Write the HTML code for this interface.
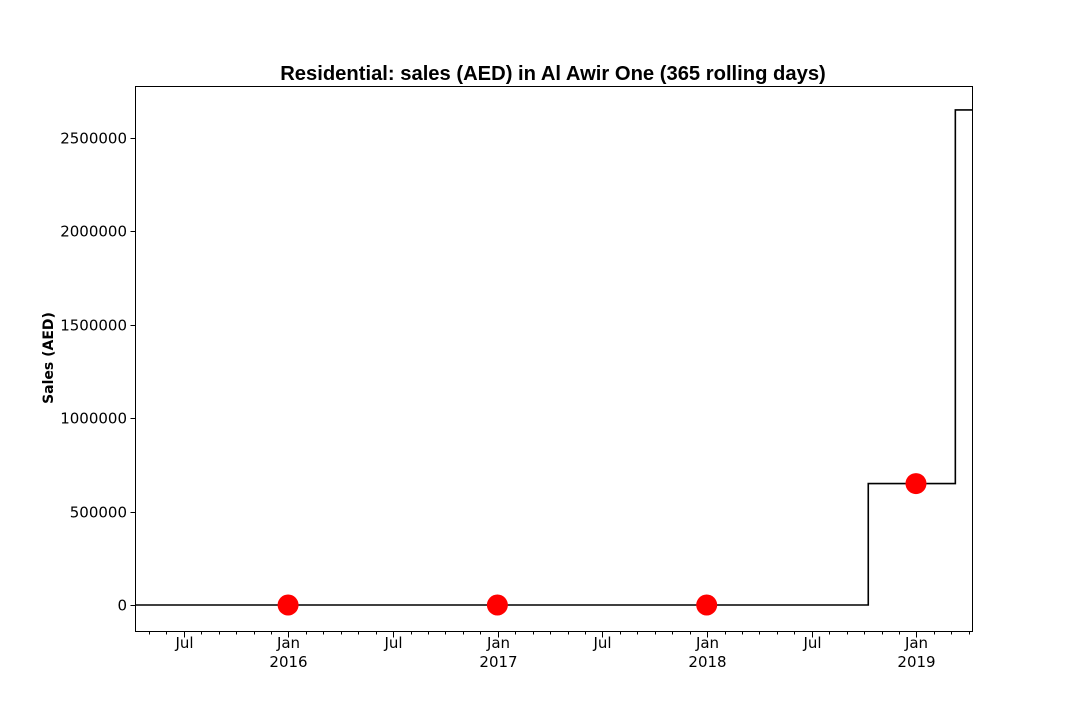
<!DOCTYPE html>
<html><head><meta charset="utf-8"><style>
body{margin:0;background:#fff}
svg{display:block}
.tk{font-family:"DejaVu Sans","Liberation Sans",sans-serif;font-size:15px;fill:#000}
</style></head><body>
<svg id="chart" width="1080" height="720" xmlns="http://www.w3.org/2000/svg">
<rect width="1080" height="720" fill="#fff"/>
<text x="553" y="80" text-anchor="middle" font-family="Liberation Sans, sans-serif" font-weight="bold" font-size="20.2">Residential: sales (AED) in Al Awir One (365 rolling days)</text>
<text transform="translate(53,358) rotate(-90)" text-anchor="middle" font-family="DejaVu Sans, sans-serif" font-weight="bold" font-size="14">Sales (AED)</text>
<g id="plot"></g>
<rect x="135.5" y="86.5" width="837" height="545" fill="none" stroke="#000" stroke-width="1"/>
</svg>
<script>
// step series: [decimal year, value]
const stepTimes = [2015.32, 2018.77, 2019.186, 2019.27];
const stepValues = [0, 650000, 2650000, 2650000];
const pointTimes = [2015.998, 2016.998, 2017.998, 2018.998];
const pointValues = [0, 0, 0, 650000];
const yTicks = [0, 500000, 1000000, 1500000, 2000000, 2500000];
const yearLabels = [2016, 2017, 2018, 2019];

const x0 = 135.5, x1 = 972.5;
const tMin = 2015.269, tMax = 2019.268;
function x(t){ return x0 + (t - tMin) / (tMax - tMin) * (x1 - x0); }
function y(v){ return 605 - v / 500000 * 93.4; }
const NS = "http://www.w3.org/2000/svg";
const g = document.getElementById('plot');
function mk(tag, attrs){ const e = document.createElementNS(NS, tag); for (const k in attrs) e.setAttribute(k, attrs[k]); g.appendChild(e); return e; }

let d = `M${x(tMin)},${y(stepValues[0])}`;
for (let i = 1; i < stepTimes.length; i++) {
  d += ` L${x(stepTimes[i])},${y(stepValues[i-1])} L${x(stepTimes[i])},${y(stepValues[i])}`;
}
d += ` L${x(tMax)},${y(stepValues[stepValues.length-1])}`;
const line = mk('path', {d: d, fill: 'none', stroke: '#000', 'stroke-width': 1.6});



pointTimes.forEach((t, i) => {
  const c = mk('circle', {cx: x(t), cy: y(pointValues[i]), r: 10.5, fill: '#ff0000'});
  
  
});

yTicks.forEach(v => {
  const yy = Math.round(y(v)) + 0.5;
  mk('line', {x1: 130.5, x2: 135.5, y1: yy, y2: yy, stroke: '#000'});
  const t = mk('text', {x: 127, y: yy + 5, 'text-anchor': 'end', class: 'tk'});
  t.textContent = v;
  
  
});

for (let yr = 2015; yr <= 2019; yr++) {
  for (let m = 0; m < 12; m++) {
    const t = yr + m / 12;
    if (t < tMin - 0.001 || t > tMax + 0.001) continue;
    const xx = Math.round(x(t)) + 0.5;
    const major = (m === 0 || m === 6);
    mk('line', {x1: xx, x2: xx, y1: 631.5, y2: 631.5 + (major ? 6 : 3), stroke: '#000'});
    if (major) {
      const lb = mk('text', {x: xx, y: 648, 'text-anchor': 'middle', class: 'tk'});
      lb.textContent = m === 0 ? 'Jan' : 'Jul';
      
      
      if (m === 0 && yearLabels.includes(yr)) {
        const yl = mk('text', {x: xx, y: 667, 'text-anchor': 'middle', class: 'tk'});
        yl.textContent = yr;
        
        
      }
    }
  }
}
</script>
</body></html>
